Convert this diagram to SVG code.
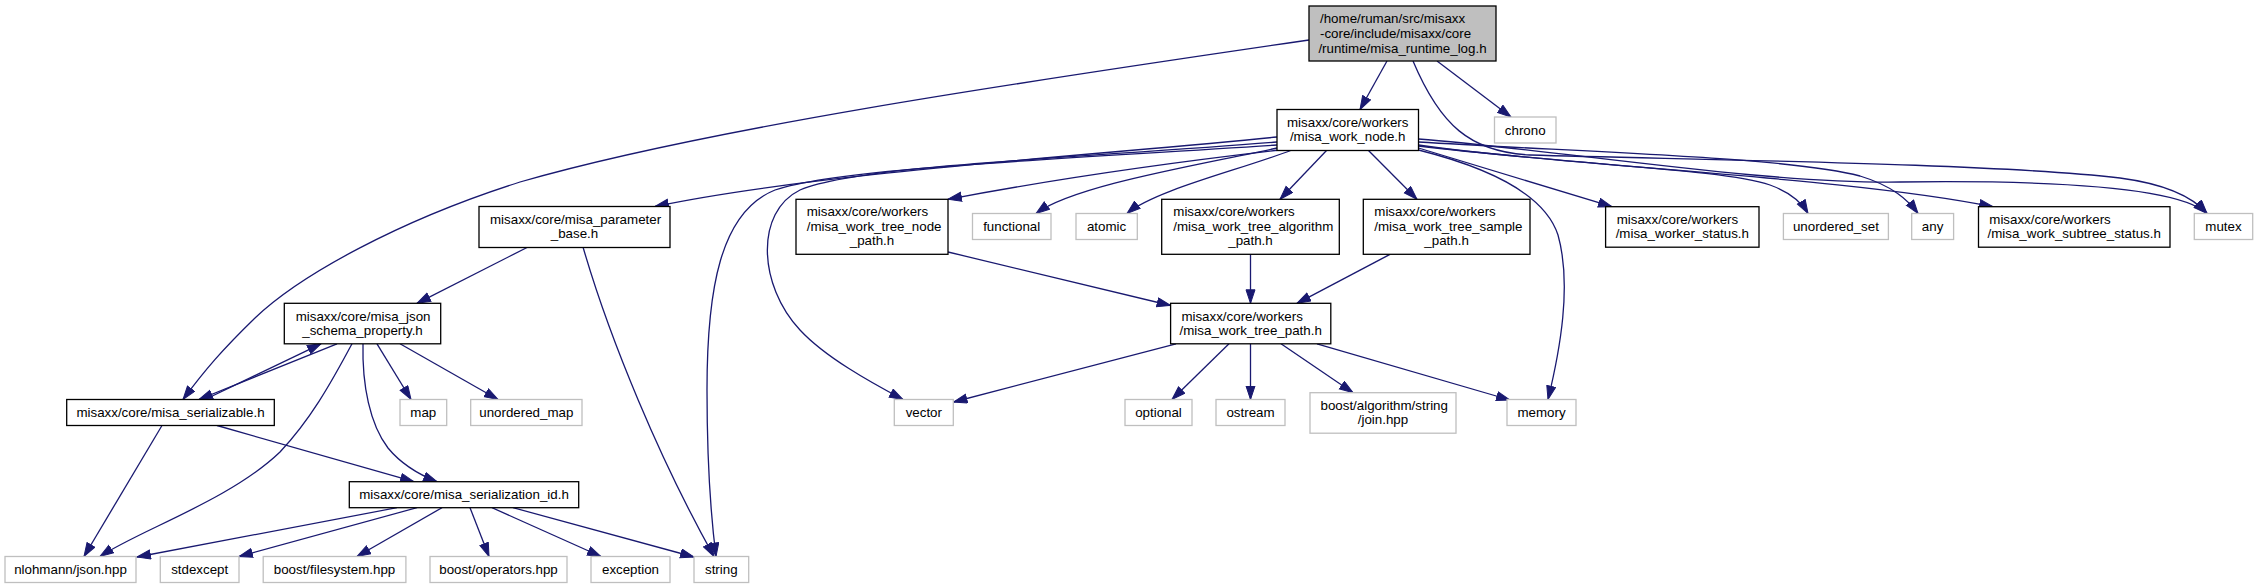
<svg xmlns="http://www.w3.org/2000/svg" width="2259" height="588" viewBox="0 0 2259 588">
<style>
rect{fill:#fff;stroke:#000;stroke-width:1.3}
.x rect{stroke:#bfbfbf}
#root rect{fill:#bfbfbf}
text{font-family:"Liberation Sans",Arial,sans-serif;font-size:13.33px;fill:#000}
.m{text-anchor:middle}
#edges path{fill:none;stroke:#191970;stroke-width:1.3;marker-end:url(#a)}
</style>
<defs>
<marker id="a" markerUnits="userSpaceOnUse" markerWidth="16" markerHeight="12" refX="14" refY="5" orient="auto"><path d="M0.5,0.5L14,5L0.5,9.5z" fill="#191970" stroke="#191970" stroke-width="1"/></marker>
</defs>
<rect x="0" y="0" width="2259" height="588" style="fill:#fff;stroke:none"/>
<g id="edges">
<path d="M1387,61 L1360,109.5"/>
<path d="M1437,61 L1511,117"/>
<path d="M1309,40 C1000,85 700,130 520,182 C400,220 300,275 255,318 C222,350 205,370 183,399.5"/>
<path d="M1413,61 C1440,125 1470,152 1530,155 C1700,160 1990,163 2120,178 C2165,184 2192,196 2207,213.5"/>
<path d="M1277,137 C1100,155 820,172 655,206.5"/>
<path d="M1277,142 C1080,158 860,165 800,190 C755,212 758,285 800,330 C825,357 870,382 903,399.5"/>
<path d="M1277,145 C1050,160 840,168 775,190 C720,212 707,290 707,390 C707,470 712,525 716,556.5"/>
<path d="M1280,150 C1150,165 1050,180 948,199.3"/>
<path d="M1277,148 C1200,165 1075,185 1036,213.5"/>
<path d="M1292,150 C1240,170 1155,190 1127,213.5"/>
<path d="M1327,150 L1280,199.3"/>
<path d="M1368,150 L1417,199.3"/>
<path d="M1418.5,148 L1612,206.7"/>
<path d="M1418.5,145 C1560,165 1720,168 1770,185 C1792,193 1802,203 1808,213.5"/>
<path d="M1418.5,142 C1580,152 1790,157 1860,176 C1893,186 1908,200 1918,213.5"/>
<path d="M1418.5,146 C1600,168 1850,178 1993,206.7"/>
<path d="M1418.5,139 C1560,150 1760,184 1900,182 C2060,180 2180,188 2207,213.5"/>
<path d="M1418.5,150 C1490,168 1545,195 1558,235 C1572,285 1560,350 1548,399.5"/>
<path d="M528,247 L417,303.3"/>
<path d="M583,247 C610,340 660,460 714,556.5"/>
<path d="M948,252 L1170.6,305.5"/>
<path d="M1250.5,254.3 L1250.5,303.3"/>
<path d="M1390,254.3 L1297,303.3"/>
<path d="M337,343.8 L199,399.5"/>
<path d="M205,399.5 L321,343.8"/>
<path d="M377,343.8 L411,399.5"/>
<path d="M400,343.8 L498,399.5"/>
<path d="M352,343.8 C330,385 310,420 280,452 C230,500 140,530 100,556.5"/>
<path d="M363,343.8 C362,385 370,425 388,448 C402,465 420,475 437,481.7"/>
<path d="M162,425.5 L84,556.5"/>
<path d="M217,425.5 L414,481.7"/>
<path d="M397,507.7 L137,557"/>
<path d="M417,507.7 L239,556.5"/>
<path d="M442,507.7 L357,556.5"/>
<path d="M470,507.7 L489,556.5"/>
<path d="M492,507.7 L601,556.5"/>
<path d="M513,507.7 L694,557"/>
<path d="M1176,343.8 L953.5,402"/>
<path d="M1229,343.8 L1172,399.5"/>
<path d="M1250.5,343.8 L1250.5,399.5"/>
<path d="M1281,343.8 L1353,392.7"/>
<path d="M1317,343.8 L1510,400"/>
</g>
<g id="root"><rect x="1309" y="6" width="187" height="55"/><text x="1320" y="22.5">/home/ruman/src/misaxx</text><text x="1320" y="37.5">-core/include/misaxx/core</text><text class="m" x="1402.5" y="52.5">/runtime/misa_runtime_log.h</text></g>
<g id="work_node"><rect x="1277" y="109.5" width="141.5" height="41"/><text x="1287" y="126.5">misaxx/core/workers</text><text class="m" x="1347.7" y="141">/misa_work_node.h</text></g>
<g id="chrono" class="x"><rect x="1494.5" y="117" width="61.5" height="26"/><text class="m" x="1525.2" y="134.5">chrono</text></g>
<g id="parameter_base"><rect x="479" y="206.5" width="191" height="41"/><text x="490" y="223.7">misaxx/core/misa_parameter</text><text class="m" x="574.5" y="238">_base.h</text></g>
<g id="tree_node_path"><rect x="796" y="199.3" width="152" height="55"/><text x="806.7" y="215.8">misaxx/core/workers</text><text x="806.7" y="230.6">/misa_work_tree_node</text><text class="m" x="872" y="245.3">_path.h</text></g>
<g id="functional" class="x"><rect x="972.5" y="213.5" width="78.5" height="26"/><text class="m" x="1011.7" y="231">functional</text></g>
<g id="atomic" class="x"><rect x="1076" y="213.5" width="61.3" height="26"/><text class="m" x="1106.6" y="231">atomic</text></g>
<g id="algorithm_path"><rect x="1161.7" y="199.3" width="177.6" height="55"/><text x="1173.3" y="215.8">misaxx/core/workers</text><text x="1173.3" y="230.6">/misa_work_tree_algorithm</text><text class="m" x="1250.5" y="245.3">_path.h</text></g>
<g id="sample_path"><rect x="1363.3" y="199.3" width="166.7" height="55"/><text x="1374.3" y="215.8">misaxx/core/workers</text><text x="1374.3" y="230.6">/misa_work_tree_sample</text><text class="m" x="1446.6" y="245.3">_path.h</text></g>
<g id="worker_status"><rect x="1605.6" y="206.7" width="153.4" height="40.5"/><text x="1616.7" y="223.9">misaxx/core/workers</text><text class="m" x="1682.3" y="238.2">/misa_worker_status.h</text></g>
<g id="unordered_set" class="x"><rect x="1783.4" y="213.5" width="105" height="26"/><text class="m" x="1835.9" y="231">unordered_set</text></g>
<g id="any" class="x"><rect x="1911.7" y="213.5" width="41.9" height="26"/><text class="m" x="1932.6" y="231">any</text></g>
<g id="subtree_status"><rect x="1978.5" y="206.7" width="191.5" height="40.5"/><text x="1989.3" y="223.9">misaxx/core/workers</text><text class="m" x="2074.2" y="238.2">/misa_work_subtree_status.h</text></g>
<g id="mutex" class="x"><rect x="2194.3" y="213.5" width="58.4" height="26"/><text class="m" x="2223.5" y="231">mutex</text></g>
<g id="json_schema_property"><rect x="284.3" y="303.3" width="156.4" height="40.5"/><text x="295.7" y="320.5">misaxx/core/misa_json</text><text class="m" x="362.5" y="334.8">_schema_property.h</text></g>
<g id="work_tree_path"><rect x="1170.6" y="303.3" width="160.2" height="40.5"/><text x="1181.4" y="320.5">misaxx/core/workers</text><text class="m" x="1250.7" y="334.8">/misa_work_tree_path.h</text></g>
<g id="serializable"><rect x="66.7" y="399.5" width="207.6" height="26"/><text class="m" x="170.5" y="417">misaxx/core/misa_serializable.h</text></g>
<g id="map" class="x"><rect x="400" y="399.5" width="46.7" height="26"/><text class="m" x="423.3" y="417">map</text></g>
<g id="unordered_map" class="x"><rect x="470.7" y="399.5" width="111.3" height="26"/><text class="m" x="526.3" y="417">unordered_map</text></g>
<g id="vector" class="x"><rect x="894.3" y="399.5" width="59" height="26"/><text class="m" x="923.8" y="417">vector</text></g>
<g id="optional" class="x"><rect x="1125" y="399.5" width="67" height="26"/><text class="m" x="1158.5" y="417">optional</text></g>
<g id="ostream" class="x"><rect x="1216" y="399.5" width="69" height="26"/><text class="m" x="1250.5" y="417">ostream</text></g>
<g id="join" class="x"><rect x="1310" y="392.7" width="146" height="40.5"/><text x="1320.5" y="409.9">boost/algorithm/string</text><text class="m" x="1383" y="424.2">/join.hpp</text></g>
<g id="memory" class="x"><rect x="1507" y="399.5" width="69" height="26"/><text class="m" x="1541.5" y="417">memory</text></g>
<g id="serialization_id"><rect x="349.3" y="481.7" width="229.4" height="26"/><text class="m" x="464" y="499.2">misaxx/core/misa_serialization_id.h</text></g>
<g id="nlohmann_json" class="x"><rect x="5" y="556.5" width="131" height="26"/><text class="m" x="70.5" y="574">nlohmann/json.hpp</text></g>
<g id="stdexcept" class="x"><rect x="160.3" y="556.5" width="78.7" height="26"/><text class="m" x="199.7" y="574">stdexcept</text></g>
<g id="filesystem" class="x"><rect x="263.2" y="556.5" width="142.7" height="26"/><text class="m" x="334.5" y="574">boost/filesystem.hpp</text></g>
<g id="operators" class="x"><rect x="430" y="556.5" width="137" height="26"/><text class="m" x="498.5" y="574">boost/operators.hpp</text></g>
<g id="exception" class="x"><rect x="591" y="556.5" width="79" height="26"/><text class="m" x="630.5" y="574">exception</text></g>
<g id="string" class="x"><rect x="694" y="556.5" width="54.7" height="26"/><text class="m" x="721.3" y="574">string</text></g>
</svg>
